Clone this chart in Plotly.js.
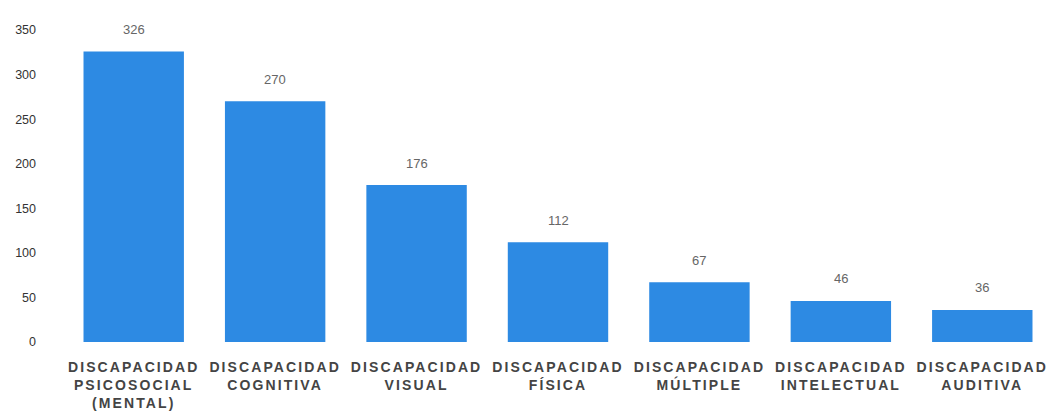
<!DOCTYPE html>
<html>
<head>
<meta charset="utf-8">
<script src="https://cdn.plot.ly/plotly-3.0.1.min.js"></script>
<style>
  html, body { margin: 0; padding: 0; background: #fff; }
  #chart { width: 1054px; height: 416px; }
  .xtick text { letter-spacing: 2.1px; }
</style>
</head>
<body>
<div id="chart"></div>
<script>
const categories = [
  "DISCAPACIDAD<br>PSICOSOCIAL<br>(MENTAL)",
  "DISCAPACIDAD<br>COGNITIVA",
  "DISCAPACIDAD<br>VISUAL",
  "DISCAPACIDAD<br>FÍSICA",
  "DISCAPACIDAD<br>MÚLTIPLE",
  "DISCAPACIDAD<br>INTELECTUAL",
  "DISCAPACIDAD<br>AUDITIVA"
];
const values = [326, 270, 176, 112, 67, 46, 36];
const yTicks = [0, 50, 100, 150, 200, 250, 300, 350];

const trace = {
  type: 'bar',
  x: categories,
  y: values,
  marker: { color: '#2d8ae3', line: { width: 0 } },
  hoverinfo: 'x+y'
};

const annotations = categories.map((c, i) => ({
  x: c, y: values[i], xref: 'x', yref: 'y',
  text: String(values[i]), showarrow: false,
  yanchor: 'middle', yshift: 22,
  font: { family: 'Liberation Sans, Arial, sans-serif', size: 13, color: '#666' }
}));

const layout = {
  width: 1054, height: 416,
  margin: { l: 63, r: 1, t: 30, b: 74 },
  paper_bgcolor: '#fff', plot_bgcolor: '#fff',
  bargap: 0.29,
  showlegend: false,
  font: { family: 'Liberation Sans, Arial, sans-serif', color: '#333' },
  xaxis: {
    type: 'category',
    showgrid: false, zeroline: false, showline: false,
    ticks: '', tickangle: 0,
    ticklabelstandoff: 15,
    tickfont: { family: 'Liberation Sans, Arial, sans-serif', size: 14, weight: 'bold', color: '#444' }
  },
  yaxis: {
    range: [0, 350],
    tickmode: 'array', tickvals: yTicks, ticktext: yTicks.map(String),
    showgrid: false, zeroline: false, showline: false,
    ticks: '',
    ticklabelstandoff: 26,
    tickfont: { family: 'Liberation Sans, Arial, sans-serif', size: 12.5, color: '#333' }
  },
  annotations: annotations
};

Plotly.newPlot('chart', [trace], layout, { displayModeBar: false, staticPlot: true });
</script>
</body>
</html>
